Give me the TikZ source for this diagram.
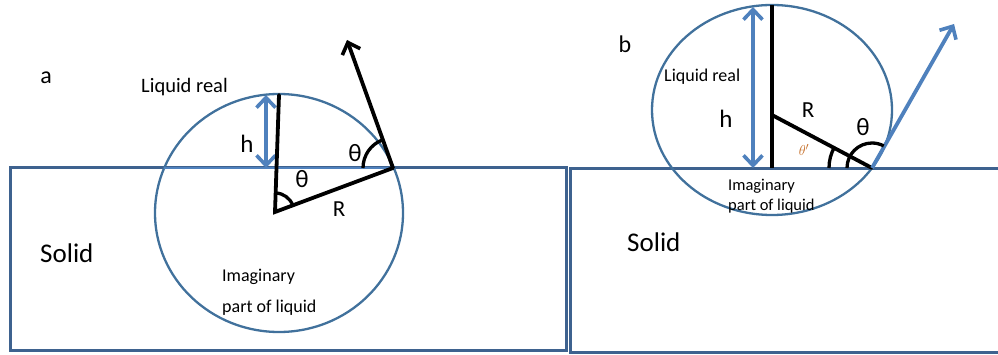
\documentclass[tikz,border=0pt]{standalone}
\usepackage{fontspec}
\setmainfont{Carlito}
\usetikzlibrary{arrows.meta}
\definecolor{rectblue}{RGB}{62,98,143}
\definecolor{ellblue}{RGB}{65,113,156}
\definecolor{lightblue}{RGB}{79,129,189}
\definecolor{thetaprime}{RGB}{197,110,40}
\tikzset{
  solidbox/.style={draw=rectblue, line width=3pt},
  dropline/.style={draw=ellblue, line width=2.3pt},
  blackline/.style={draw=black, line width=3.8pt},
  bluearrow/.style={draw=lightblue, line width=3.8pt},
  barb/.style={-{Straight Barb[length=10pt,width=19pt,line width=3.6pt]}},
  dbarb/.style={{Straight Barb[length=10pt,width=19pt,line width=3.6pt]}-{Straight Barb[length=10pt,width=19pt,line width=3.6pt]}},
  anglearc/.style={draw=black, line width=3.3pt},
  lbl/.style={inner sep=0pt, anchor=base},
}
\newcommand{\fs}[1]{\fontsize{#1}{#1}\selectfont}
\begin{document}
\begin{tikzpicture}[x=1pt,y=-1pt]
\useasboundingbox (0,0) rectangle (998,355);
% ---------- panel a ----------
\draw[solidbox] (10,168) rectangle (566,350);
\draw[dropline] (279,213) ellipse [x radius=124, y radius=119];
\coordinate (aL) at (164,168);
\coordinate (aC) at (275,212);
\coordinate (aT) at (279,95);
\coordinate (aE) at (393,168);
\coordinate (aTip) at (347,40);
\coordinate (ahT) at (266,95);
\coordinate (ahB) at (266,168);
\draw[draw=lightblue, line width=2.4pt] (aL) -- (aE);
\draw[bluearrow, dbarb] (ahB) -- (ahT);
\draw[blackline, line cap=round] (aT) -- (aC) -- (aE);
\draw[blackline, barb] (aE) -- (aTip);
\draw[anglearc] ([shift={(-20:19)}]aC) arc[start angle=-20, end angle=-88, radius=19];
\draw[anglearc] ([shift={(180:30)}]aE) arc[start angle=180, end angle=250, radius=30];
\node[lbl, font=\fs{24}] (la) at (46,84) {a};
\node[lbl, anchor=base west, font=\fs{20.5}] (lra) at (141,93) {Liquid real};
\node[lbl, font=\fs{25}] (ha) at (247,153) {h};
\node[lbl, font=\fs{25}] (tha1) at (302,188) {θ};
\node[lbl, font=\fs{25}] (tha2) at (355,162) {θ};
\node[lbl, font=\fs{23}] (Ra) at (339,217) {R};
\node[lbl, anchor=base west, font=\fs{27}] (sa) at (40,263) {Solid};
\node[lbl, anchor=base west, font=\fs{18}] (ima) at (222,282) {Imaginary};
\node[lbl, anchor=base west, font=\fs{18}] (pla) at (222,312) {part of liquid};
% ---------- panel b ----------
\draw[solidbox] (1002,169) -- (570,169) -- (570,352) -- (1002,352);
\draw[dropline] (772,110) ellipse [x radius=120, y radius=105];
\coordinate (bT) at (772,5);
\coordinate (bB) at (772,168);
\coordinate (bC) at (772,115);
\coordinate (bE) at (872,168);
\coordinate (bTip) at (954,24);
\coordinate (bhT) at (753,7);
\coordinate (bhB) at (753,168);
\draw[bluearrow, dbarb] (bhB) -- (bhT);
\draw[blackline] (bT) -- (bB);
\draw[blackline, line cap=round] (bC) -- (bE);
\draw[bluearrow, barb] (bE) -- (bTip);
\draw[anglearc] ([shift={(180:43)}]bE) arc[start angle=180, end angle=209, radius=43];
\draw[anglearc] ([shift={(180:25)}]bE) arc[start angle=180, end angle=298, radius=25];
\node[lbl, font=\fs{24}] (lb) at (625,53) {b};
\node[lbl, anchor=base west, font=\fs{18}] (lrb) at (664,82) {Liquid real};
\node[lbl, font=\fs{25}] (hb) at (726,128) {h};
\node[lbl, font=\fs{23}] (Rb) at (808,118) {R};
\node[lbl, font=\fs{25}] (thb) at (863,136) {θ};
\node[lbl, font=\fs{15}, text=thetaprime] (thp) at (804,156) {$\theta'$};
\node[lbl, anchor=base west, font=\fs{16.5}] (imb) at (728,191) {Imaginary};
\node[lbl, anchor=base west, font=\fs{16.5}] (plb) at (728,211) {part of liquid};
\node[lbl, anchor=base west, font=\fs{27}] (sb) at (627,252) {Solid};
\end{tikzpicture}
\end{document}
